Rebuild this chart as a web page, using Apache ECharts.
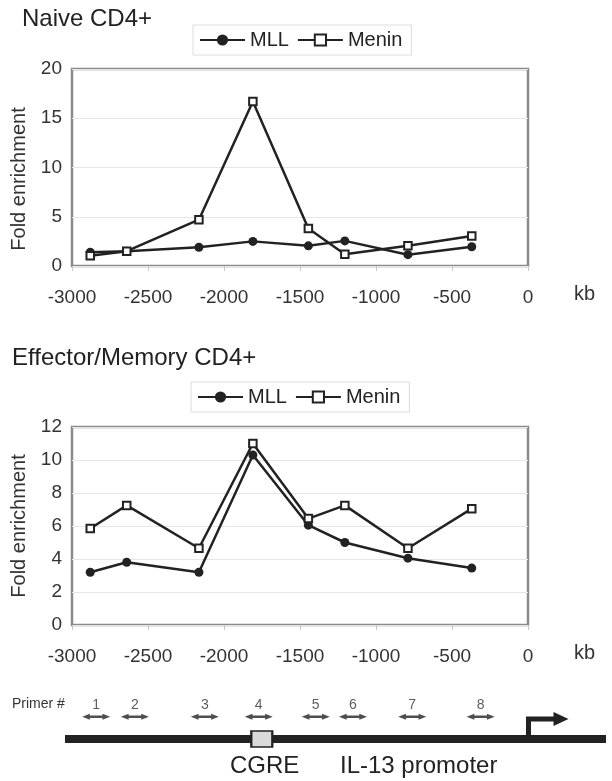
<!DOCTYPE html>
<html>
<head>
<meta charset="utf-8">
<script src="https://cdn.jsdelivr.net/npm/echarts@6/dist/echarts.min.js"></script>
<style>
  html, body { margin: 0; padding: 0; background: #fff; }
  #chart { width: 612px; height: 781px; }
</style>
</head>
<body>
<div id="chart"></div>
<script>
// primer positions on the x axis (kb)
const kb = [-2880, -2640, -2165, -1810, -1445, -1205, -790, -370]
// Naive CD4+
const naiveMLL = [1.4, 1.5, 1.9, 2.5, 2.05, 2.55, 1.15, 1.95]
const naiveMenin = [1.05, 1.5, 4.7, 16.7, 3.8, 1.2, 2.05, 3.05]
// Effector/Memory CD4+
const effMLL = [3.2, 3.8, 3.2, 10.3, 6.05, 5.0, 4.05, 3.45]
const effMenin = [5.85, 7.25, 4.65, 11.0, 6.45, 7.25, 4.65, 7.05]
// locus map below the charts
const primerNums = ['1', '2', '3', '4', '5', '6', '7', '8']
const primerKb = [-2845, -2590, -2130, -1775, -1400, -1155, -765, -315]
const cgreKb = -1755
const promoterKb = 0
const locusRange = [-3050, 510]

const font = "'Liberation Sans', Arial, sans-serif"
const ink = '#222'

function mllSeries(vals, gi) {
  return {
    name: 'MLL',
    type: 'line',
    xAxisIndex: gi,
    yAxisIndex: gi,
    data: kb.map((x, i) => [x, vals[i]]),
    symbol: 'circle',
    symbolSize: 9,
    itemStyle: { color: ink },
    lineStyle: { color: ink, width: 2.5 },
    z: 3
  }
}

function meninSeries(vals, gi) {
  return {
    name: 'Menin',
    type: 'line',
    xAxisIndex: gi,
    yAxisIndex: gi,
    data: kb.map((x, i) => [x, vals[i]]),
    symbol: 'rect',
    symbolSize: 7.5,
    itemStyle: { color: '#fff', borderColor: ink, borderWidth: 2 },
    lineStyle: { color: ink, width: 2.5 },
    z: 4
  }
}

function xAxisOf(gi) {
  return {
    type: 'value',
    gridIndex: gi,
    min: -3000,
    max: 0,
    interval: 500,
    axisLine: { show: false },
    axisTick: { show: true, length: 5, lineStyle: { color: '#c8c8c8', width: 1 } },
    splitLine: { show: false },
    axisLabel: { fontSize: 19, color: '#333', margin: 22, formatter: v => String(v) },
    name: 'kb',
    nameLocation: 'end',
    nameGap: 46,
    nameTextStyle: { fontSize: 20, color: '#333', verticalAlign: 'top', padding: [18, 0, 0, 0] }
  }
}

function yAxisOf(gi, max, step, namePad) {
  return {
    type: 'value',
    gridIndex: gi,
    min: 0,
    max: max,
    interval: step,
    axisLine: { show: false },
    axisTick: { show: false },
    splitLine: { lineStyle: { color: '#e6e6e6', width: 1 } },
    axisLabel: { fontSize: 19, color: '#333', margin: 10 },
    name: 'Fold enrichment',
    nameLocation: 'middle',
    nameGap: 38,
    nameTextStyle: { fontSize: 20, color: '#333', padding: namePad }
  }
}

function legendAt(top, left) {
  return {
    data: ['MLL', 'Menin'],
    top: top,
    left: left,
    orient: 'horizontal',
    itemWidth: 45,
    itemHeight: 14,
    itemGap: 8,
    padding: [5, 9, 5, 6],
    borderColor: '#dcdcdc',
    borderWidth: 1,
    selectedMode: false,
    textStyle: { fontSize: 20, color: ink, fontFamily: font }
  }
}

const chart = echarts.init(document.getElementById('chart'), null, { renderer: 'canvas' })

chart.setOption({
  animation: false,
  backgroundColor: '#fff',
  textStyle: { fontFamily: font },
  title: [
    { text: 'Naive CD4+', left: 22, top: 7, padding: 0,
      textStyle: { fontSize: 24, fontWeight: 'normal', color: ink, fontFamily: font } },
    { text: 'Effector/Memory CD4+', left: 12, top: 346, padding: 0,
      textStyle: { fontSize: 24, fontWeight: 'normal', color: ink, fontFamily: font } }
  ],
  legend: [legendAt(25, 193), legendAt(382, 191)],
  grid: [
    { left: 72, top: 69, width: 456, height: 197, show: true, borderColor: '#8a8a8a', borderWidth: 2.5, backgroundColor: 'transparent' },
    { left: 72, top: 427, width: 456, height: 198, show: true, borderColor: '#8a8a8a', borderWidth: 2.5, backgroundColor: 'transparent' },
    { left: 65, right: 6, top: 690, height: 90 }
  ],
  xAxis: [
    xAxisOf(0),
    xAxisOf(1),
    { type: 'value', gridIndex: 2, min: locusRange[0], max: locusRange[1], show: false }
  ],
  yAxis: [
    yAxisOf(0, 20, 5, [0, 23, 0, 0]),
    yAxisOf(1, 12, 2, 0),
    // rows of the locus map, counted down from the top of its grid
    { type: 'value', gridIndex: 2, min: 0, max: 90, inverse: true, show: false }
  ],
  graphic: [
    { type: 'text', left: 12, top: 697, style: { text: 'Primer #', fontSize: 14, fill: '#333', fontFamily: font } },
    { type: 'text', left: 230, top: 754, style: { text: 'CGRE', fontSize: 24, fill: ink, fontFamily: font } },
    { type: 'text', left: 340, top: 754, style: { text: 'IL-13 promoter', fontSize: 24, fill: ink, fontFamily: font } }
  ],
  series: [
    mllSeries(naiveMLL, 0),
    meninSeries(naiveMenin, 0),
    mllSeries(effMLL, 1),
    meninSeries(effMenin, 1),
    {
      // chromosome backbone
      type: 'line',
      xAxisIndex: 2,
      yAxisIndex: 2,
      data: locusRange.map(x => [x, 49]),
      symbol: 'none',
      lineStyle: { color: ink, width: 8, cap: 'butt' },
      silent: true,
      z: 2
    },
    {
      // primer pairs
      type: 'scatter',
      xAxisIndex: 2,
      yAxisIndex: 2,
      data: primerKb.map((x, i) => [x, 26.7, primerNums[i]]),
      symbol: 'path://M0,5 L11,0 L11,3 L29,3 L29,0 L40,5 L29,10 L29,7 L11,7 L11,10 Z',
      symbolSize: [28, 6],
      itemStyle: { color: ink },
      label: {
        show: true,
        position: 'top',
        distance: 2,
        formatter: p => p.value[2],
        fontSize: 14,
        color: '#333'
      },
      silent: true,
      z: 3
    },
    {
      // CGRE element
      type: 'scatter',
      xAxisIndex: 2,
      yAxisIndex: 2,
      data: [[cgreKb, 49]],
      symbol: 'rect',
      symbolSize: [21, 16],
      itemStyle: { color: '#dadada', borderColor: ink, borderWidth: 2, opacity: 1 },
      silent: true,
      z: 4
    },
    {
      // transcription start arrow
      type: 'custom',
      xAxisIndex: 2,
      yAxisIndex: 2,
      data: [[promoterKb, 49]],
      silent: true,
      z: 4,
      renderItem: function(params, api) {
        const p = api.coord([api.value(0), api.value(1)])
        return {
          type: 'group',
          children: [
            {
              type: 'polyline',
              shape: { points: [[p[0], p[1] - 3], [p[0], p[1] - 20], [p[0] + 27, p[1] - 20]] },
              style: { stroke: ink, lineWidth: 5, fill: null }
            },
            {
              type: 'polygon',
              shape: { points: [[p[0] + 25, p[1] - 27], [p[0] + 40, p[1] - 20], [p[0] + 25, p[1] - 13]] },
              style: { fill: ink }
            }
          ]
        }
      }
    }
  ]
})
</script>
</body>
</html>
